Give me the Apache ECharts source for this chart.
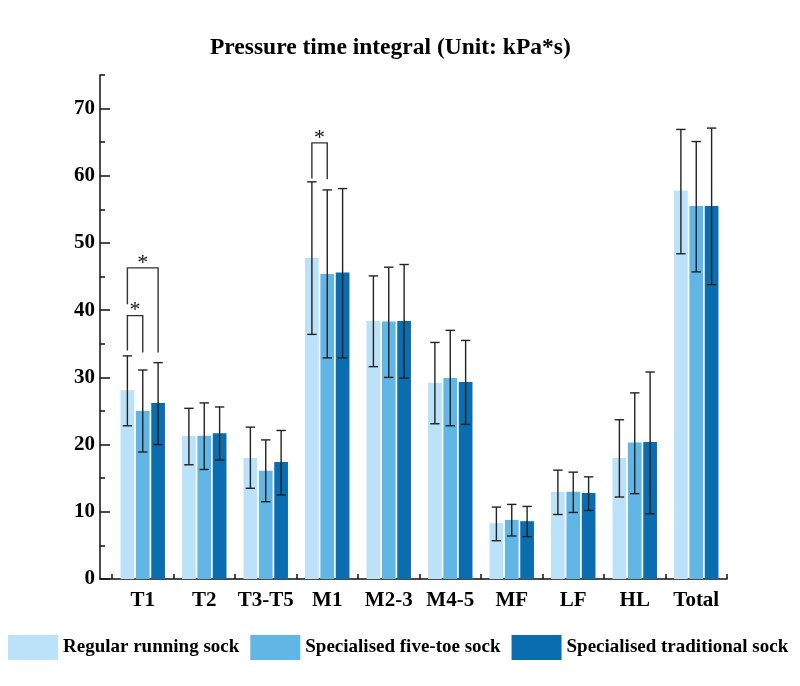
<!DOCTYPE html>
<html>
<head>
<meta charset="utf-8">
<script src="https://cdn.jsdelivr.net/npm/echarts@6/dist/echarts.min.js"></script>
<style>
html,body{margin:0;padding:0;background:#fff;}
#chart{width:800px;height:686px;}
</style>
</head>
<body>
<div id="chart"></div>
<script>
const categories = ['T1', 'T2', 'T3-T5', 'M1', 'M2-3', 'M4-5', 'MF', 'LF', 'HL', 'Total'];
const seriesNames = ['Regular running sock', 'Specialised five-toe sock', 'Specialised traditional sock'];
const regularMean = [28.1, 21.3, 18.0, 47.8, 38.4, 29.2, 8.3, 13.0, 18.0, 57.8];
const regularLow  = [22.8, 17.0, 13.5, 36.4, 31.6, 23.1, 5.7, 9.6, 12.2, 48.4];
const regularHigh = [33.2, 25.4, 22.6, 59.1, 45.1, 35.2, 10.7, 16.2, 23.7, 66.9];
const fiveToeMean = [25.0, 21.3, 16.1, 45.4, 38.3, 29.9, 8.8, 13.0, 20.3, 55.5];
const fiveToeLow  = [18.9, 16.3, 11.5, 32.9, 30.0, 22.8, 6.4, 9.9, 12.7, 45.7];
const fiveToeHigh = [31.1, 26.2, 20.7, 57.9, 46.4, 37.0, 11.1, 15.9, 27.7, 65.1];
const tradMean = [26.2, 21.7, 17.4, 45.6, 38.4, 29.3, 8.6, 12.8, 20.4, 55.5];
const tradLow  = [20.0, 17.7, 12.5, 32.9, 29.9, 23.0, 6.3, 10.2, 9.7, 43.8];
const tradHigh = [32.2, 25.6, 22.1, 58.1, 46.8, 35.5, 10.8, 15.2, 30.8, 67.1];
// significance brackets: [category, fromBar, toBar, topValue, leftLegBottom, rightLegBottom]
const sigBrackets = [
  [0, 0, 1, 39.2, 34.0, 33.7],
  [0, 0, 2, 46.3, 40.9, 33.7],
  [3, 0, 1, 64.9, 59.6, 59.5]
];
const yTicksMajor = [0, 10, 20, 30, 40, 50, 60, 70];

const colors = ['#BBE2F8', '#62B6E6', '#0A6DB0'];
const FONT = "'Liberation Serif', 'Times New Roman', serif";
const BAR_W = 0.223;   // fraction of band
const BAR_GAP = 0.12;  // fraction of bar width

function barOffset(api, i) {
  const band = api.size([1, 0])[0];
  return (i - 1) * band * BAR_W * (1 + BAR_GAP);
}

const means = [regularMean, fiveToeMean, tradMean];
const lows = [regularLow, fiveToeLow, tradLow];
const highs = [regularHigh, fiveToeHigh, tradHigh];

const series = [];
for (let s = 0; s < 3; s++) {
  series.push({
    name: seriesNames[s],
    type: 'bar',
    data: means[s],
    barWidth: (BAR_W * 100) + '%',
    barGap: (BAR_GAP * 100) + '%',
    itemStyle: { color: colors[s] },
    xAxisIndex: 0, yAxisIndex: 0
  });
}
for (let s = 0; s < 3; s++) {
  series.push({
    type: 'custom',
    xAxisIndex: 0, yAxisIndex: 0,
    z: 5,
    silent: true,
    data: categories.map((c, i) => [i, lows[s][i], highs[s][i]]),
    renderItem: function (params, api) {
      const off = barOffset(api, s);
      const lo = api.coord([api.value(0), api.value(1)]);
      const hi = api.coord([api.value(0), api.value(2)]);
      const x = lo[0] + off;
      const cap = 4.7;
      const style = { stroke: '#222', lineWidth: 1.4 };
      return {
        type: 'group',
        children: [
          { type: 'line', shape: { x1: x, y1: hi[1], x2: x, y2: lo[1] }, style: style },
          { type: 'line', shape: { x1: x - cap, y1: hi[1], x2: x + cap, y2: hi[1] }, style: style },
          { type: 'line', shape: { x1: x - cap, y1: lo[1], x2: x + cap, y2: lo[1] }, style: style }
        ]
      };
    }
  });
}
series.push({
  type: 'custom',
  xAxisIndex: 0, yAxisIndex: 0,
  z: 6,
  silent: true,
  data: sigBrackets,
  renderItem: function (params, api) {
    const cat = api.value(0);
    const x1 = api.coord([cat, 0])[0] + barOffset(api, api.value(1));
    const x2 = api.coord([cat, 0])[0] + barOffset(api, api.value(2));
    const yt = api.coord([cat, api.value(3)])[1];
    const yl = api.coord([cat, api.value(4)])[1];
    const yr = api.coord([cat, api.value(5)])[1];
    const style = { stroke: '#333', lineWidth: 1.4, fill: null };
    return {
      type: 'group',
      children: [
        { type: 'polyline', shape: { points: [[x1, yl], [x1, yt], [x2, yt], [x2, yr]] }, style: style },
        { type: 'text', x: (x1 + x2) / 2, y: yt + 6,
          style: { text: '*', font: '22px ' + FONT, fill: '#111', align: 'center', verticalAlign: 'bottom' } }
      ]
    };
  }
});

const chart = echarts.init(document.getElementById('chart'), null, { renderer: 'canvas' });
chart.setOption({
  animation: false,
  backgroundColor: '#fff',
  title: {
    text: 'Pressure time integral (Unit: kPa*s)',
    left: 205, top: 31,
    textStyle: { fontFamily: FONT, fontWeight: 'bold', fontSize: 23.5, color: '#000' }
  },
  legend: {
    data: seriesNames,
    left: 8, top: 635, padding: 0,
    itemWidth: 50, itemHeight: 25, itemGap: 11,
    icon: 'rect',
    textStyle: { fontFamily: FONT, fontWeight: 'bold', fontSize: 19, color: '#000', padding: [0, 0, 0, 0] }
  },
  grid: [
    { left: 112, right: 73, top: 75, bottom: 107 },
    { left: 100, right: 73, top: 108.6, bottom: 107 }
  ],
  xAxis: [
    {
      type: 'category', gridIndex: 0, data: categories,
      axisLine: { show: false },
      axisTick: { show: true, inside: true, length: 5, lineStyle: { color: '#111', width: 1.5 } },
      axisLabel: { interval: 0, fontFamily: FONT, fontWeight: 'bold', fontSize: 21, color: '#000', margin: 11 }
    },
    {
      type: 'value', gridIndex: 1, min: 0, max: 1,
      axisLine: { show: true, lineStyle: { color: '#111', width: 1.5 } },
      axisTick: { show: false }, axisLabel: { show: false }, splitLine: { show: false }
    }
  ],
  yAxis: [
    {
      type: 'value', gridIndex: 0, min: 0, max: 75, interval: 5, offset: 12,
      axisLine: { show: true, lineStyle: { color: '#111', width: 1.5 } },
      axisTick: { show: true, inside: true, length: 5, lineStyle: { color: '#111', width: 1.5 } },
      axisLabel: { show: false },
      splitLine: { show: false }
    },
    {
      type: 'value', gridIndex: 1, min: yTicksMajor[0], max: yTicksMajor[yTicksMajor.length - 1], interval: 10,
      axisLine: { show: false },
      axisTick: { show: true, inside: true, length: 10, lineStyle: { color: '#111', width: 1.5 } },
      axisLabel: { fontFamily: FONT, fontWeight: 'bold', fontSize: 21, color: '#000', margin: 5 },
      splitLine: { show: false }
    }
  ],
  series: series
});
</script>
</body>
</html>
